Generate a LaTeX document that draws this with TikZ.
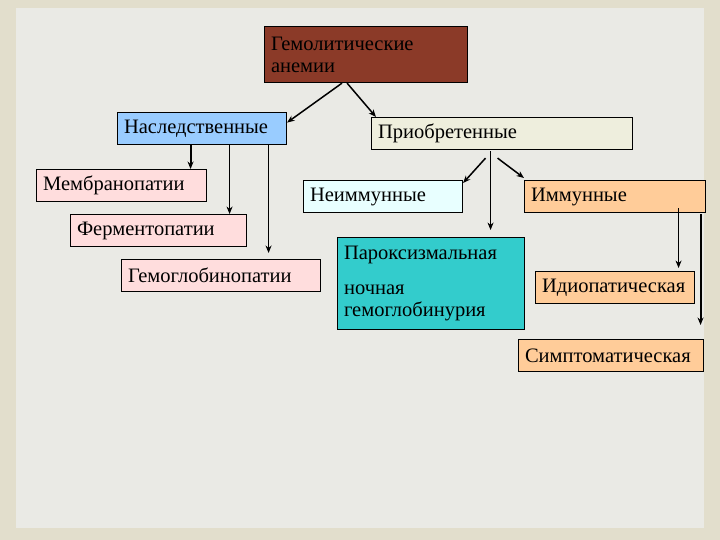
\documentclass[tikz,border=0pt]{standalone}
\usepackage{fontspec}
\setmainfont{Liberation Serif}
\usetikzlibrary{arrows.meta}
\definecolor{outerbg}{HTML}{E2DECC}
\definecolor{innerbg}{HTML}{EAEAE5}
\definecolor{brownbox}{HTML}{8B3A28}
\definecolor{bluebox}{HTML}{99CCFF}
\definecolor{beigebox}{HTML}{EEEEDD}
\definecolor{pinkbox}{HTML}{FFDDDD}
\definecolor{cyanbox}{HTML}{E8FFFF}
\definecolor{peachbox}{HTML}{FFCC99}
\definecolor{tealbox}{HTML}{33CCCC}
\tikzset{
  bx/.style={draw=black, line width=1.1pt, anchor=north west, inner xsep=6.5pt, inner ysep=0pt,
    align=left, font=\fontsize{20.5}{22}\selectfont, text=black},
  conn/.style={draw=black, -{Stealth[length=7.5pt,width=6pt]}},
}
\begin{document}
\begin{tikzpicture}[x=1pt,y=-1pt]
\fill[outerbg] (0,0) rectangle (720,540);
\fill[innerbg] (16,8) rectangle (704,528);
\useasboundingbox (0,0) rectangle (720,540);

\node[bx, fill=brownbox, text width=190pt, minimum height=56pt] (top) at (264,26)
  {Гемолитические\\анемии};
\node[bx, fill=bluebox, text width=156pt, minimum height=32pt] (nas) at (117,112) {Наследственные};
\node[bx, fill=beigebox, text width=248pt, minimum height=32pt] (pri) at (371,117) {Приобретенные};
\node[bx, fill=pinkbox, text width=157pt, minimum height=32pt] (mem) at (36,169) {Мембранопатии};
\node[bx, fill=pinkbox, text width=163pt, minimum height=32pt] (fer) at (70,214) {Ферментопатии};
\node[bx, fill=pinkbox, text width=186pt, minimum height=32pt] (gem) at (121,259) {Гемоглобинопатии};
\node[bx, fill=cyanbox, text width=146pt, minimum height=32pt] (nei) at (303,180) {Неиммунные};
\node[bx, fill=peachbox, text width=168pt, minimum height=32pt] (imm) at (524,180) {Иммунные};
\node[bx, fill=tealbox, text width=174pt, minimum height=92pt] (par) at (337,237)
  {Пароксизмальная\\[13pt]ночная\\гемоглобинурия};
\node[bx, fill=peachbox, text width=146pt, minimum height=32pt] (idi) at (535,271) {Идиопатическая};
\node[bx, fill=peachbox, text width=172pt, minimum height=32pt] (sym) at (518,339) {Симптоматическая};

% from top
\draw[conn, line width=1.5pt] ([xshift=-24pt]top.south) -- ([yshift=6pt]nas.east);
\draw[conn, line width=1.5pt] ([xshift=-19pt]top.south) -- ([xshift=5pt]pri.north west);
% from nas
\draw[conn, line width=2pt] ([xshift=-11.5pt]nas.south) -- ([xshift=-11.5pt]nas.south |- mem.north);
\draw[conn, line width=0.9pt] ([xshift=27.5pt]nas.south) -- ([xshift=27.5pt]nas.south |- fer.north);
\draw[conn, line width=1.5pt] ([xshift=66.5pt]nas.south) -- ([xshift=66.5pt,yshift=6pt]nas.south |- gem.north);
% from pri
\draw[conn, line width=1.5pt] ([xshift=-16.5pt,yshift=-8pt]pri.south) -- ([yshift=-3pt]nei.north east);
\draw[conn, line width=0.9pt] ([xshift=-11.5pt,yshift=-1pt]pri.south) -- ([xshift=-11.5pt,yshift=7pt]pri.south |- par.north);
\draw[conn, line width=1.5pt] ([xshift=-4.5pt,yshift=-8pt]pri.south) -- ([yshift=2pt]imm.north west);
% from imm
\draw[conn, line width=0.9pt] ([xshift=63.5pt,yshift=5pt]imm.south) -- ([xshift=63.5pt,yshift=3pt]imm.south |- idi.north);
\draw[conn, line width=2pt] ([xshift=85.5pt,yshift=-1pt]imm.south) -- ([xshift=85.5pt,yshift=14pt]imm.south |- sym.north);
\end{tikzpicture}
\end{document}
